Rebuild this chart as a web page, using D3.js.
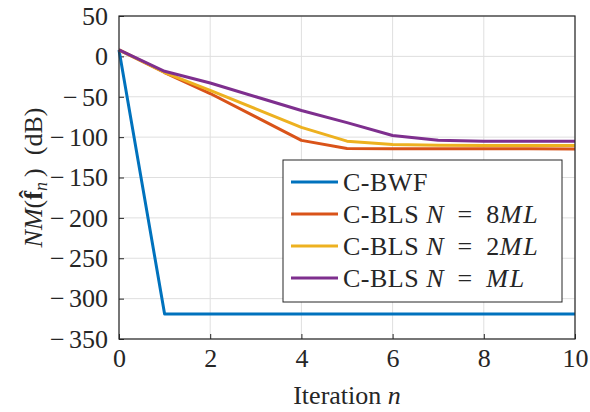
<!DOCTYPE html>
<html>
<head>
<meta charset="utf-8">
<script src="https://cdn.jsdelivr.net/npm/d3@7"></script>
<style>
  body { margin: 0; background: #fff; }
  svg text { font-family: "Liberation Serif", "DejaVu Serif", serif; fill: #262626; }
</style>
</head>
<body>
<svg id="chart" width="590" height="412"></svg>
<script>
const MARGIN = { top: 16, right: 15, bottom: 73, left: 119 };
const WIDTH = 590, HEIGHT = 412;
const FONT_SIZE = 26;

// data
const iterations = [0, 1, 2, 3, 4, 5, 6, 7, 8, 9, 10];
const bwf   = [8, -319, -319, -319, -319, -319, -319, -319, -319, -319, -319];
const bls8  = [8, -20, -46, -75, -104, -114, -114.5, -114.5, -114.5, -114.5, -114.6];
const bls2  = [8, -20, -42, -65, -88, -105, -109, -110, -110.5, -110.5, -110.5];
const bls1  = [8, -18.5, -33, -50, -67, -82, -98, -104, -105, -105, -105];
const xTicks = [0, 2, 4, 6, 8, 10];
const yTicks = [50, 0, -50, -100, -150, -200, -250, -300, -350];

const series = [
  { key: 'bwf',  values: bwf,  colour: '#0072BD', label: ['C-BWF'] },
  { key: 'bls8', values: bls8, colour: '#D95319', label: ['C-BLS ', 'N', ' = 8', 'ML'] },
  { key: 'bls2', values: bls2, colour: '#EDB120', label: ['C-BLS ', 'N', ' = 2', 'ML'] },
  { key: 'bls1', values: bls1, colour: '#7E2F8E', label: ['C-BLS ', 'N', ' = ', 'ML'] }
];

const width = WIDTH - MARGIN.left - MARGIN.right;
const height = HEIGHT - MARGIN.top - MARGIN.bottom;

const $svg = d3.select('#chart');
const $g = $svg.append('g').attr('transform', `translate(${MARGIN.left},${MARGIN.top})`);

const scaleX = d3.scaleLinear().domain([0, 10]).range([0, width]);
const scaleY = d3.scaleLinear().domain([-350, 50]).range([height, 0]);

// grid
$g.append('g').selectAll('line.gx')
  .data(xTicks)
  .join('line')
  .attr('x1', d => scaleX(d)).attr('x2', d => scaleX(d))
  .attr('y1', 0).attr('y2', height)
  .style('stroke', '#dfdfdf').style('stroke-width', 1);

$g.append('g').selectAll('line.gy')
  .data(yTicks)
  .join('line')
  .attr('x1', 0).attr('x2', width)
  .attr('y1', d => scaleY(d)).attr('y2', d => scaleY(d))
  .style('stroke', '#dfdfdf').style('stroke-width', 1);

// axes
const axisX = d3.axisBottom(scaleX).tickValues(xTicks).tickSize(-5).tickPadding(10)
  .tickFormat(d3.format('d'));
const axisY = d3.axisLeft(scaleY).tickValues(yTicks).tickSize(-5).tickPadding(11)
  .tickFormat(d => d < 0 ? '\u2212\u2006' + Math.abs(d) : d);

const $ax = $g.append('g').attr('transform', `translate(0,${height})`).call(axisX);
const $ay = $g.append('g').call(axisY);
[$ax, $ay].forEach($a => {
  $a.select('.domain').remove();
  $a.selectAll('line').style('stroke', '#262626');
  $a.selectAll('text').style('font-size', FONT_SIZE + 'px')
    .style('font-family', '"Liberation Serif", serif').attr('fill', '#262626');
});

// lines
const line = d3.line()
  .x((d, i) => scaleX(iterations[i]))
  .y(d => scaleY(d));

$g.append('g').selectAll('path.series')
  .data(series)
  .join('path')
  .attr('class', 'series')
  .attr('d', d => line(d.values))
  .style('fill', 'none')
  .style('stroke', d => d.colour)
  .style('stroke-width', 3)
  .style('stroke-linejoin', 'round');

// box
$g.append('rect')
  .attr('width', width).attr('height', height)
  .style('fill', 'none').style('stroke', '#262626').style('stroke-width', 1.2);

// legend
const LEG = { x: 283, y: 160, w: 279, h: 142 };
const $leg = $svg.append('g').attr('transform', `translate(${LEG.x},${LEG.y})`);
$leg.append('rect')
  .attr('width', LEG.w).attr('height', LEG.h)
  .style('fill', '#fff').style('stroke', '#262626').style('stroke-width', 1);

const $item = $leg.selectAll('g.item')
  .data(series)
  .join('g')
  .attr('class', 'item')
  .attr('transform', (d, i) => `translate(0,${22 + i * 32})`);

$item.append('line')
  .attr('x1', 8).attr('x2', 55)
  .style('stroke', d => d.colour).style('stroke-width', 3);

const $txt = $item.append('text')
  .attr('x', 60).attr('y', 9)
  .style('font-size', FONT_SIZE + 'px')
  .style('letter-spacing', '0.5px');
$txt.each(function(d) {
  const t = d3.select(this);
  d.label.forEach((part, i) => {
    t.append('tspan').text(i === 2 ? part.replace(' = ', '\u2002=\u2002') : part)
      .style('font-style', (i === 1 || i === 3) ? 'italic' : 'normal')
      .style('letter-spacing', i === 3 ? '2px' : null);
  });
});

// axis labels
$svg.append('text')
  .attr('x', MARGIN.left + width / 2).attr('y', 404)
  .attr('text-anchor', 'middle')
  .style('font-size', FONT_SIZE + 'px')
  .call(t => {
    t.append('tspan').text('Iteration ');
    t.append('tspan').text('n').style('font-style', 'italic');
  });

const $yl = $svg.append('text')
  .attr('transform', `translate(42,${MARGIN.top + height / 2}) rotate(-90)`)
  .attr('text-anchor', 'middle')
  .style('font-size', FONT_SIZE + 'px');
$yl.append('tspan').text('NM').style('font-style', 'italic');
$yl.append('tspan').text('(');
$yl.append('tspan').text('f\u0302').style('font-weight', 'bold');
$yl.append('tspan').text('n').style('font-style', 'italic').style('font-size', '18px').attr('dy', 5);
$yl.append('tspan').text('\u2009)\u2002(dB)').attr('dy', -5);
</script>
</body>
</html>
